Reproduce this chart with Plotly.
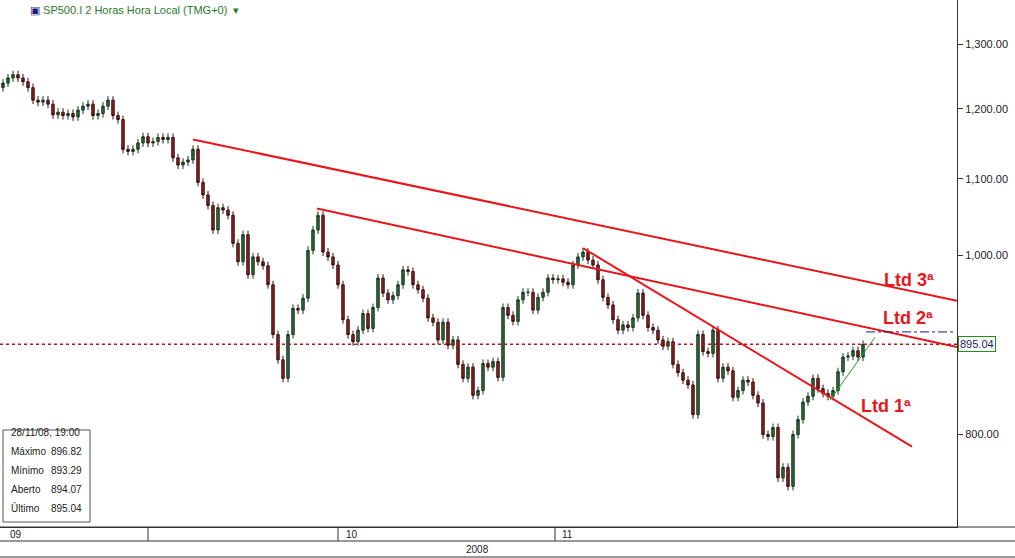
import math
import plotly.graph_objects as go

# closes of the 2-hour bars, left to right
closes = [
    1239, 1247, 1252, 1247, 1241, 1232, 1213, 1210, 1213, 1207, 1191, 1195, 1190, 1193, 1188,
    1198, 1204, 1207, 1190, 1193, 1204, 1213, 1190, 1184, 1141, 1138, 1141, 1150, 1159, 1150,
    1152, 1158, 1155, 1158, 1129, 1119, 1123, 1126, 1141, 1095, 1078, 1064, 1032, 1061, 1058,
    1051, 1015, 992, 1026, 976, 998, 992, 987, 964, 906, 878, 858, 906, 936, 934,
    948, 1006, 1032, 1051, 1004, 998, 988, 964, 923, 906, 898, 911, 930, 913, 937,
    972, 954, 946, 951, 964, 982, 980, 964, 958, 948, 925, 920, 900, 920, 894,
    900, 873, 858, 870, 840, 845, 874, 870, 876, 859, 937, 928, 921, 946, 955,
    955, 934, 949, 955, 972, 970, 971, 967, 964, 988, 998, 1004, 994, 988, 970,
    949, 940, 923, 911, 917, 914, 925, 954, 928, 914, 911, 900, 893, 898, 873,
    864, 856, 851, 820, 906, 887, 885, 911, 858, 870, 866, 838, 845, 856, 854,
    840, 832, 800, 798, 807, 758, 768, 750, 800, 815, 833, 839, 858, 847, 842,
    839, 845, 865, 881, 882, 888, 881, 895.04,
]
opens = [1232] + closes[:-1]
highs = [max(o, c) * 1.005 for o, c in zip(opens, closes)]
lows = [min(o, c) * 0.995 for o, c in zip(opens, closes)]
idx = list(range(len(closes)))

# trend lines: x in bar index, y in price
ltd3 = ([38, 190.8], [1155, 945])
ltd2 = ([62.8, 190.8], [1060, 892])
ltd1 = ([116, 181.8], [1009, 788])
green_line = ([165.4, 174.4], [835, 903])

last_price = 895.04
info_rows = ["28/11/08, 19:00", "Máximo", "Mínimo", "Aberto", "Último"]
info_vals = ["", "896.82", "893.29", "894.07", "895.04"]

ytick_vals = [800, 1000, 1100, 1200, 1300]
ytick_text = ["800.00", "1,000.00", "1,100.00", "1,200.00", "1,300.00"]

W, PW = 1015, 957

fig = go.Figure()
fig.add_trace(go.Candlestick(
    x=idx, open=opens, high=highs, low=lows, close=closes,
    increasing=dict(line=dict(color="#17361d", width=1), fillcolor="#2f6b3b"),
    decreasing=dict(line=dict(color="#3b1010", width=1), fillcolor="#8e2222"),
    whiskerwidth=0, showlegend=False,
))

for xs, ys in (ltd3, ltd2, ltd1):
    fig.add_trace(go.Scatter(x=xs, y=ys, mode="lines",
                             line=dict(color="#e8161b", width=2), showlegend=False))
fig.add_trace(go.Scatter(x=green_line[0], y=green_line[1], mode="lines",
                         line=dict(color="#2a9a2a", width=1), showlegend=False))

fig.add_hline(y=last_price, line=dict(color="#b01818", width=1.5, dash="dot"))
fig.add_shape(type="line", xref="paper", yref="y", x0=866 / PW, x1=955 / PW, y0=909, y1=909,
              line=dict(color="#1a1a80", width=1, dash="dashdot"))

for txt, px, py in (("Ltd 3ª", 882, 280), ("Ltd 2ª", 881, 318), ("Ltd 1ª", 859, 406)):
    fig.add_annotation(text=f"<b>{txt}</b>", xref="paper", yref="paper",
                       x=px / PW, y=1 - py / 527, xanchor="left", yanchor="middle",
                       showarrow=False, font=dict(family="Arial", size=18, color="#e8161b"))

# last price tag on the axis (annotation y on a log axis is log10)
fig.add_annotation(text="895.04", xref="paper", yref="y", x=1, y=math.log10(last_price),
                   xanchor="left", yanchor="middle", showarrow=False,
                   font=dict(family="Arial", size=11, color="#1a1a80"),
                   bgcolor="#fffff4", bordercolor="#2a8a2a", borderwidth=1, borderpad=1,
                   xshift=1)

fig.add_annotation(text="<span style='color:#1a1a80'>▣</span> SP500.I 2 Horas Hora Local (TMG+0)  ▾",
                   xref="paper", yref="paper", x=28 / PW, y=1 - 10 / 527,
                   xanchor="left", yanchor="middle", showarrow=False,
                   font=dict(family="Arial", size=11, color="#2a7a2a"))

# info box
fig.add_shape(type="rect", xref="paper", yref="paper", x0=3 / PW, x1=90 / PW,
              y0=1 - 522 / 527, y1=1 - 430 / 527, line=dict(color="#555", width=1),
              fillcolor="white")
for i, (r, v) in enumerate(zip(info_rows, info_vals)):
    yy = 1 - (440 + i * 19) / 527
    fig.add_annotation(text=r, xref="paper", yref="paper", x=9 / PW, y=yy, xanchor="left",
                       showarrow=False, font=dict(family="Arial", size=10, color="#222"))
    if v:
        fig.add_annotation(text=v, xref="paper", yref="paper", x=84 / PW, y=yy,
                           xanchor="right", showarrow=False,
                           font=dict(family="Arial", size=10, color="#222"))

# bottom date rows
for y0 in (527, 541, 557):
    fig.add_shape(type="line", xref="paper", yref="paper", x0=0, x1=W / PW,
                  y0=1 - y0 / 527, y1=1 - y0 / 527, line=dict(color="#333", width=1))
for xv in (148, 338, 555):
    fig.add_shape(type="line", xref="paper", yref="paper", x0=xv / PW, x1=xv / PW,
                  y0=1 - 541 / 527, y1=1 - 527 / 527, line=dict(color="#333", width=1))
for txt, px in (("09", 8), ("10", 344), ("11", 560)):
    fig.add_annotation(text=txt, xref="paper", yref="paper", x=px / PW, y=1 - 534 / 527,
                       xanchor="left", yanchor="middle", showarrow=False,
                       font=dict(family="Arial", size=10, color="#222"))
fig.add_annotation(text="2008", xref="paper", yref="paper", x=477 / PW, y=1 - 549 / 527,
                   xanchor="center", yanchor="middle", showarrow=False,
                   font=dict(family="Arial", size=10, color="#222"))

fig.update_layout(
    width=W, height=558, margin=dict(l=0, r=W - PW, t=0, b=31),
    paper_bgcolor="white", plot_bgcolor="white",
    xaxis=dict(range=[-0.6, 190.8], showticklabels=False, showgrid=False, zeroline=False,
               rangeslider=dict(visible=False), showline=True, linecolor="#333", mirror=True),
    yaxis=dict(type="log", range=[2.8531, 3.1380], side="right", showgrid=False,
               tickvals=ytick_vals, ticktext=ytick_text, ticks="outside", ticklen=5,
               tickcolor="#333", showline=True, linecolor="#333", mirror=True,
               tickfont=dict(family="Arial", size=11, color="#222")),
)
fig.write_html("out.html", config={"displayModeBar": False},
               post_script="document.body.style.margin='0';")
